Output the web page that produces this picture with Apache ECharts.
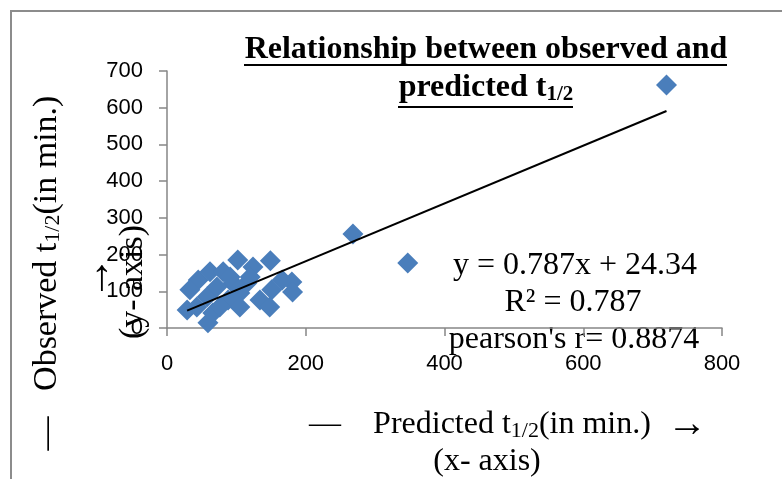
<!DOCTYPE html>
<html>
<head>
<meta charset="utf-8">
<script src="https://cdn.jsdelivr.net/npm/echarts@6/dist/echarts.min.js"></script>
<style>
  html, body { margin: 0; padding: 0; background: #fff; }
  #main { width: 782px; height: 479px; }
</style>
</head>
<body>
<div id="main"></div>
<script>
// predicted t1/2 (x) and observed t1/2 (y)
var predicted = [149, 102, 124, 180, 166, 181, 151, 134, 148, 45, 33, 62, 81, 29, 59, 66, 88, 105, 115, 95, 58, 76, 43, 105, 72, 120, 91, 268, 347, 720];
var observed  = [183, 185, 166, 125, 131, 98, 104, 76, 57, 131, 104, 153, 153, 49, 14, 41, 76, 95, 122, 122, 85, 57, 57, 57, 112, 139, 139, 256, 177, 662];

var xTicks = [0, 200, 400, 600, 800];
var yTicks = [0, 100, 200, 300, 400, 500, 600, 700];

// trendline as given in the chart: y = 0.787x + 24.34
var slope = 0.787, intercept = 24.34;
var trendX = [29, 720];

var points = [];
for (var i = 0; i < predicted.length; i++) {
    points.push([predicted[i], observed[i]]);
}
var trend = trendX.map(function (x) { return [x, slope * x + intercept]; });

var serif = 'Liberation Serif';
var subStyle = { fontFamily: serif, fontSize: 22, padding: [13, 0, 0, 0], fill: '#000' };

var myChart = echarts.init(document.getElementById('main'));
var option = {
    backgroundColor: '#fff',
    animation: false,
    grid: { left: 167, right: 60, top: 71, bottom: 151 },
    xAxis: {
        type: 'value',
        min: xTicks[0],
        max: xTicks[xTicks.length - 1],
        interval: 200,
        splitLine: { show: false },
        axisLine: { onZero: false, lineStyle: { color: '#868686', width: 1.5 } },
        axisTick: { show: true, length: 8, lineStyle: { color: '#868686', width: 1.5 } },
        axisLabel: { color: '#000', fontFamily: 'Liberation Sans', fontSize: 22, margin: 25 }
    },
    yAxis: {
        type: 'value',
        min: yTicks[0],
        max: yTicks[yTicks.length - 1],
        interval: 100,
        splitLine: { show: false },
        axisLine: { show: true, onZero: false, lineStyle: { color: '#868686', width: 1.5 } },
        axisTick: { show: true, length: 8, lineStyle: { color: '#868686', width: 1.5 } },
        axisLabel: { color: '#000', fontFamily: 'Liberation Sans', fontSize: 22, margin: 24 }
    },
    series: [
        {
            type: 'scatter',
            data: points,
            symbol: 'diamond',
            symbolSize: 21,
            itemStyle: { color: '#4a7ebb', opacity: 1 },
            z: 2
        },
        {
            type: 'line',
            data: trend,
            symbol: 'none',
            lineStyle: { color: '#000', width: 2 },
            z: 3
        }
    ],
    graphic: [
        { type: 'rect', shape: { x: 11, y: 11, width: 820, height: 520 },
          style: { fill: 'none', stroke: '#8c8c8c', lineWidth: 2 }, z: -1 },
        // title
        { type: 'text', x: 486, y: 50,
          style: { text: 'Relationship between observed and', fontFamily: serif, fontWeight: 'bold', fontSize: 32,
                   fill: '#000', textAlign: 'center', textVerticalAlign: 'middle' } },
        { type: 'text', x: 486, y: 88,
          style: { text: '{a|predicted t}{s|1/2}', textAlign: 'center', textVerticalAlign: 'middle',
                   rich: { a: { fontFamily: serif, fontWeight: 'bold', fontSize: 32, fill: '#000' },
                           s: { fontFamily: serif, fontWeight: 'bold', fontSize: 21, padding: [13, 0, 0, 0], fill: '#000' } } } },
        { type: 'line', shape: { x1: 244, y1: 65, x2: 727, y2: 65 }, style: { stroke: '#000', lineWidth: 2 } },
        { type: 'line', shape: { x1: 398, y1: 107, x2: 573, y2: 107 }, style: { stroke: '#000', lineWidth: 2 } },
        // y axis name
        { type: 'text', x: 47, y: 273, rotation: Math.PI / 2,
          style: { text: '{a|—   Observed t}{s|1/2}{a|(in min.)}', textAlign: 'center', textVerticalAlign: 'middle',
                   rich: { a: { fontFamily: serif, fontSize: 34, fill: '#000' }, s: subStyle } } },
        { type: 'text', x: 97, y: 278, rotation: Math.PI / 2,
          style: { text: '→', fontFamily: serif, fontSize: 44, fill: '#000', textAlign: 'center', textVerticalAlign: 'middle' } },
        { type: 'text', x: 133, y: 282, rotation: Math.PI / 2,
          style: { text: '(y- axis)', fontFamily: serif, fontSize: 34, fill: '#000', textAlign: 'center', textVerticalAlign: 'middle' } },
        // x axis name
        { type: 'text', x: 508, y: 425,
          style: { text: '{a|—    Predicted t}{s|1/2}{a|(in min.)  }{r|→}', textAlign: 'center', textVerticalAlign: 'middle',
                   rich: { a: { fontFamily: serif, fontSize: 32, fill: '#000' }, s: subStyle,
                           r: { fontFamily: serif, fontSize: 40, fill: '#000' } } } },
        { type: 'text', x: 487, y: 462,
          style: { text: '(x- axis)', fontFamily: serif, fontSize: 32, fill: '#000', textAlign: 'center', textVerticalAlign: 'middle' } },
        // equation
        { type: 'text', x: 575, y: 266,
          style: { text: 'y = 0.787x + 24.34', fontFamily: serif, fontSize: 32, fill: '#000', textAlign: 'center', textVerticalAlign: 'middle' } },
        { type: 'text', x: 573, y: 303,
          style: { text: 'R² = 0.787', fontFamily: serif, fontSize: 32, fill: '#000', textAlign: 'center', textVerticalAlign: 'middle' } },
        { type: 'text', x: 574, y: 340,
          style: { text: "pearson's r= 0.8874", fontFamily: serif, fontSize: 32, fill: '#000', textAlign: 'center', textVerticalAlign: 'middle' } }
    ]
};
myChart.setOption(option);
window.addEventListener('resize', function () {
    myChart.resize();
});
</script>
</body>
</html>
